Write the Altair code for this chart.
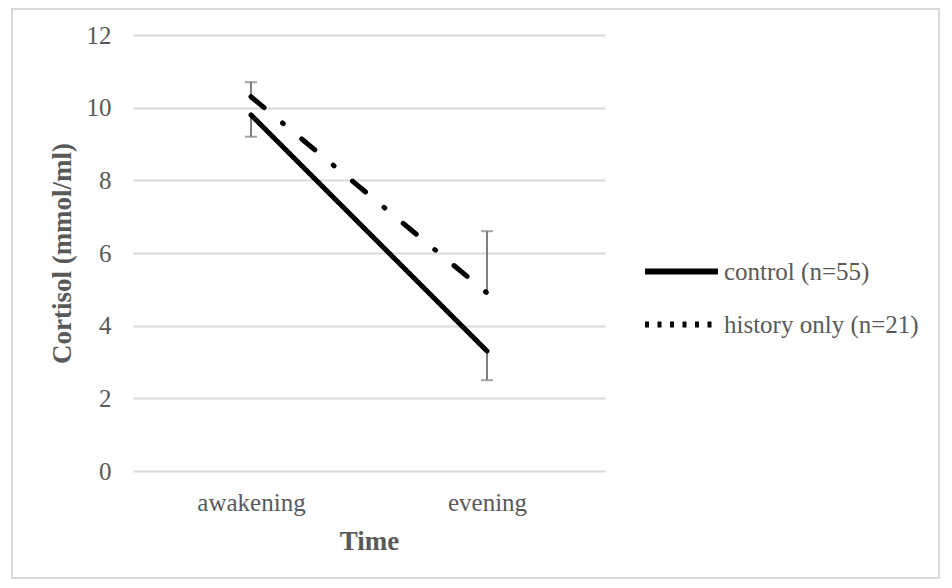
import altair as alt
import pandas as pd

times = ["awakening", "evening"]
series_names = ["control (n=55)", "history only (n=21)"]
control_vals = [9.8, 3.3]
history_vals = [10.3, 4.9]
control_err_end = [9.2, 2.5]   # minus error bar end
history_err_end = [10.7, 6.6]  # plus error bar end
y_ticks = [0, 2, 4, 6, 8, 10, 12]

rows = []
for s, vals, ends in [(series_names[0], control_vals, control_err_end),
                      (series_names[1], history_vals, history_err_end)]:
    for t, v, e in zip(times, vals, ends):
        rows.append({"series": s, "time": t, "value": v, "end": e})
df = pd.DataFrame(rows)

FONT = "Liberation Serif"
GREY = "#595959"

xscale = alt.Scale(type="point", padding=0.5, domain=times)
yscale = alt.Scale(domain=[0, 12])

x_axis = alt.Axis(title="Time", labelAngle=0, labelAlign="center", ticks=False,
                  domain=False, labelPadding=19, titlePadding=13, labelFontSize=25,
                  titleFontSize=27, titleFontWeight="bold",
                  labelColor=GREY, titleColor=GREY, grid=False)
y_axis = alt.Axis(title="Cortisol (mmol/ml)", values=y_ticks, ticks=False,
                  domain=False, labelPadding=22, titlePadding=10,
                  labelFontSize=25, titleFontSize=27, titleFontWeight="bold",
                  labelColor=GREY, titleColor=GREY,
                  gridColor="#d9d9d9", gridWidth=2)

x_enc = alt.X("time:N", scale=xscale, sort=times, axis=x_axis)
y_enc = alt.Y("value:Q", scale=yscale, axis=y_axis)

base = alt.Chart(df)

frame = alt.Chart(pd.DataFrame({"a": [0]})).mark_rect(
    fillOpacity=0, stroke="#d9d9d9", strokeWidth=2
).encode(x=alt.value(-121), x2=alt.value(806), y=alt.value(-26), y2=alt.value(543))

err_rule = base.mark_rule(color="#7f7f7f", strokeWidth=2).encode(
    x=x_enc,
    y=y_enc,
    y2="end:Q",
)
err_cap = base.mark_tick(color="#7f7f7f", thickness=2, size=12).encode(
    x=x_enc,
    y=alt.Y("end:Q", scale=yscale, axis=y_axis),
)

lines = base.mark_line(color="black", strokeWidth=5, strokeCap="round").encode(
    x=x_enc,
    y=y_enc,
    strokeDash=alt.StrokeDash("series:N",
                              scale=alt.Scale(domain=series_names,
                                              range=[[1, 0], [17, 24, 1, 24]]),
                              legend=None),
    detail="series:N",
)

legend = alt.Legend(
    title=None, orient="none", legendX=509, legendY=197,
    symbolType="stroke", symbolSize=5329, symbolStrokeWidth=6,
    symbolStrokeColor="black", labelFontSize=25, labelColor=GREY,
    labelOffset=3, rowPadding=0, labelFont=FONT, labelLimit=400,
)

legend_layer = base.transform_filter("false").mark_line(
    color="black", strokeWidth=6
).encode(
    x=x_enc,
    y=y_enc,
    strokeDash=alt.StrokeDash("series:N",
                              scale=alt.Scale(domain=series_names,
                                              range=[[1, 0], [4, 8.5]]),
                              legend=legend),
)

chart = alt.layer(frame, err_rule, err_cap, lines, legend_layer).resolve_scale(
    strokeDash="independent"
).properties(
    width=472, height=436,
    autosize=alt.AutoSizeParams(type="none"),
    padding={"left": 125, "top": 27, "right": 335, "bottom": 108},
).configure(font=FONT).configure_view(stroke=None)

chart.save("out.html", embed_options={"renderer": "svg", "actions": False})
